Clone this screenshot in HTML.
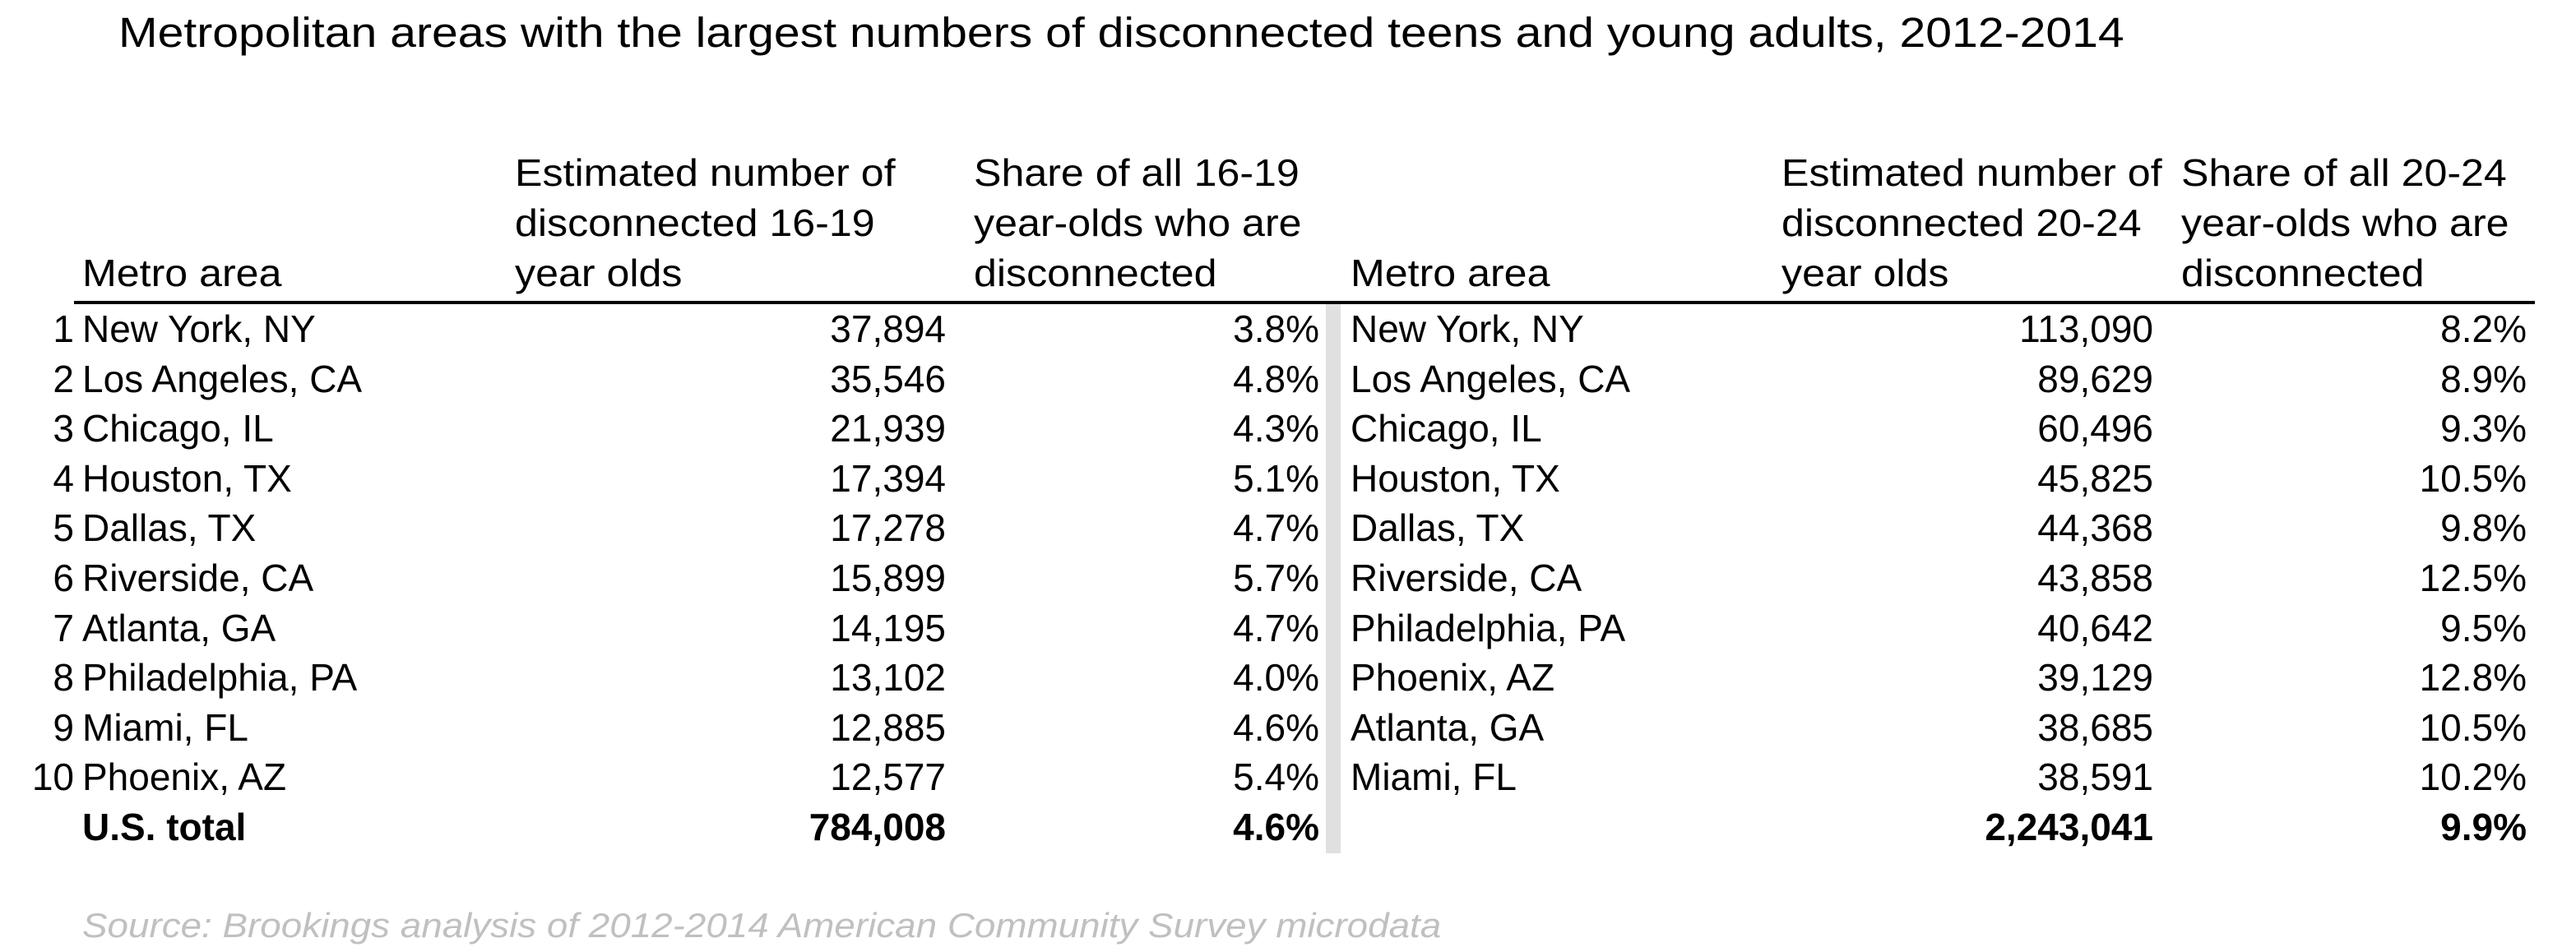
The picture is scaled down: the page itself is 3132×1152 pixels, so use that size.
<!DOCTYPE html>
<html><head><meta charset="utf-8"><style>
html,body{margin:0;padding:0;background:#fff;}
#root{position:relative;width:3132px;height:1152px;overflow:hidden;font-family:"Liberation Sans",Arial,sans-serif;color:#000;}
.t{position:absolute;white-space:nowrap;font-size:46px;line-height:60px;height:60px;}
.b{font-weight:bold;}
.hs{font-size:46px;transform:scaleX(1.09);transform-origin:left center;}
</style></head><body>
<div id="root">
<div class="t" style="left:144px;top:8px;font-size:51px;line-height:64px;height:64px;transform:scaleX(1.12);transform-origin:left center;">Metropolitan areas with the largest numbers of disconnected teens and young adults, 2012-2014</div>
<div style="position:absolute;left:90px;top:366px;width:2992px;height:4px;background:#000;"></div>
<div style="position:absolute;left:1612px;top:370px;width:18px;height:668px;background:#e0e0e0;"></div>
<div class="t" style="left:100px;top:1096px;font-size:42px;font-style:italic;color:#c0c0c0;transform:scaleX(1.09);transform-origin:left center;">Source: Brookings analysis of 2012-2014 American Community Survey microdata</div>
</div>
<script>
const metrosTeen=["New York, NY","Los Angeles, CA","Chicago, IL","Houston, TX","Dallas, TX","Riverside, CA","Atlanta, GA","Philadelphia, PA","Miami, FL","Phoenix, AZ"];
const countTeen=["37,894","35,546","21,939","17,394","17,278","15,899","14,195","13,102","12,885","12,577"];
const shareTeen=["3.8%","4.8%","4.3%","5.1%","4.7%","5.7%","4.7%","4.0%","4.6%","5.4%"];
const metrosYoung=["New York, NY","Los Angeles, CA","Chicago, IL","Houston, TX","Dallas, TX","Riverside, CA","Philadelphia, PA","Phoenix, AZ","Atlanta, GA","Miami, FL"];
const countYoung=["113,090","89,629","60,496","45,825","44,368","43,858","40,642","39,129","38,685","38,591"];
const shareYoung=["8.2%","8.9%","9.3%","10.5%","9.8%","12.5%","9.5%","12.8%","10.5%","10.2%"];
const totals=["784,008","4.6%","2,243,041","9.9%"];
const headers=[
 [["Metro area"],100,"header-metro-area-teen"],
 [["Estimated number of","disconnected 16-19","year olds"],626,"header-count-teen"],
 [["Share of all 16-19","year-olds who are","disconnected"],1184,"header-share-teen"],
 [["Metro area"],1642,"header-metro-area-young"],
 [["Estimated number of","disconnected 20-24","year olds"],2166,"header-count-young"],
 [["Share of all 20-24","year-olds who are","disconnected"],2652,"header-share-young"]
];
const root=document.getElementById('root');
function txt(s,left,top,cls,name,right){
 const d=document.createElement('div');
 d.className='t '+(cls||'');
 d.textContent=s;
 d.style.top=top+'px';
 if(right!==undefined){d.style.right=(3132-right)+'px';d.style.textAlign='right';}
 else d.style.left=left+'px';
 
 
 root.appendChild(d);
}
headers.forEach(h=>{
 const lines=h[0];
 lines.forEach((l,i)=>{
  const center=332-(lines.length-1-i)*61;
  txt(l,h[1],center-30,'hs',h[2]);
 });
});
function rowY(i){return 400+i*60.6-30;}
metrosTeen.forEach((m,i)=>{
 const y=rowY(i);
 txt(String(i+1),0,y,'','rank-'+(i+1),90);
 txt(m,100,y,'','metro-teen');
 txt(countTeen[i],0,y,'','count-teen',1150);
 txt(shareTeen[i],0,y,'','share-teen',1604);
 txt(metrosYoung[i],1642,y,'','metro-young');
 txt(countYoung[i],0,y,'','count-young',2618);
 txt(shareYoung[i],0,y,'','share-young',3072);
});
const ty=rowY(10);
txt("U.S. total",100,ty,'b','us-total-label');
txt(totals[0],0,ty,'b','total-count-teen',1150);
txt(totals[1],0,ty,'b','total-share-teen',1604);
txt(totals[2],0,ty,'b','total-count-young',2618);
txt(totals[3],0,ty,'b','total-share-young',3072);
</script>
</body></html>
